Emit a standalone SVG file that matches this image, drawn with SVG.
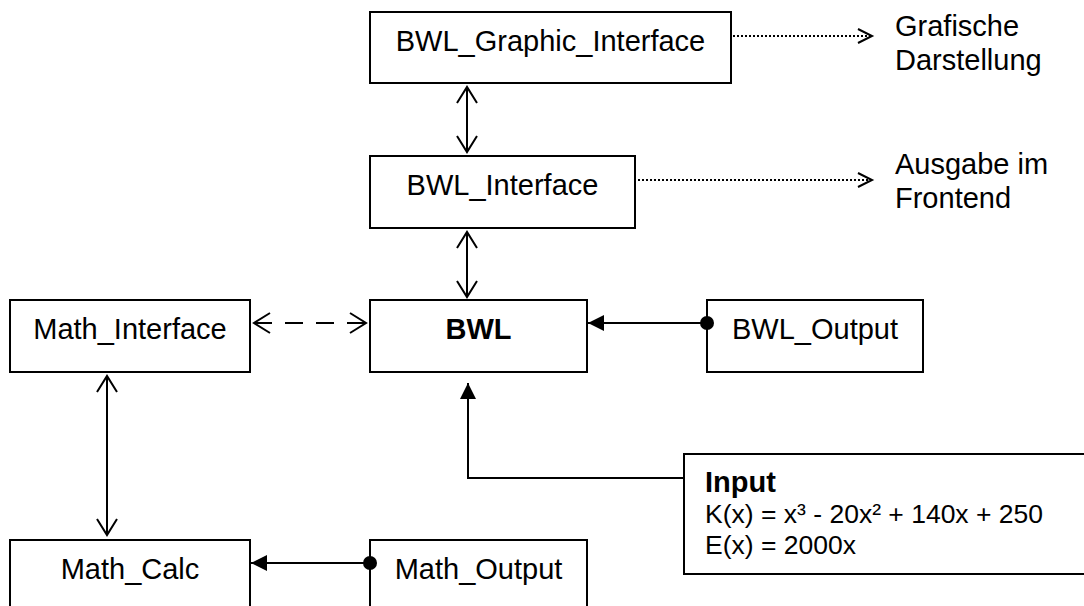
<svg xmlns="http://www.w3.org/2000/svg" width="1084" height="606" viewBox="0 0 1084 606">
<style>
.box{fill:#fff;stroke:#000;stroke-width:2}
.lbl{font-family:"Liberation Sans",Arial,sans-serif;font-size:29px;fill:#000;text-anchor:middle}
.note{font-family:"Liberation Sans",Arial,sans-serif;font-size:29px;fill:#000}
.small{font-size:26.5px}
.ln{fill:none;stroke:#000;stroke-width:2}
.dotted{stroke-dasharray:2 2}
.dashed{stroke-dasharray:18 13}
</style>
<defs>
<marker id="open" viewBox="-20 -12 24 24" markerWidth="24" markerHeight="24" refX="0" refY="0" orient="auto-start-reverse" markerUnits="userSpaceOnUse">
<path d="M-16,-10 L0,0 L-16,10" fill="none" stroke="#000" stroke-width="2"/>
</marker>
<marker id="openS" viewBox="-20 -12 24 24" markerWidth="24" markerHeight="24" refX="0" refY="0" orient="auto-start-reverse" markerUnits="userSpaceOnUse">
<path d="M-14,-7 L0,0 L-14,7" fill="none" stroke="#000" stroke-width="2"/>
</marker>
<marker id="tri" viewBox="-20 -12 24 24" markerWidth="24" markerHeight="24" refX="0" refY="0" orient="auto" markerUnits="userSpaceOnUse">
<path d="M-16,-8 L0,0 L-16,8 Z" fill="#000" stroke="none"/>
</marker>
<marker id="dot" viewBox="-10 -10 20 20" markerWidth="20" markerHeight="20" refX="0" refY="0" markerUnits="userSpaceOnUse">
<circle cx="0" cy="0" r="7" fill="#000"/>
</marker>
</defs>

<g id="node-bwl-graphic-interface">
<rect class="box" x="370" y="12" width="361" height="71"/>
<text class="lbl" x="550.5" y="51">BWL_Graphic_Interface</text>
</g>
<g id="node-bwl-interface">
<rect class="box" x="370" y="156" width="265" height="72"/>
<text class="lbl" x="502.5" y="194.5">BWL_Interface</text>
</g>
<g id="node-math-interface">
<rect class="box" x="10" y="300" width="240" height="72"/>
<text class="lbl" x="130" y="338.5">Math_Interface</text>
</g>
<g id="node-bwl">
<rect class="box" x="370" y="300" width="217" height="72"/>
<text class="lbl" x="478.5" y="338.5" font-weight="bold">BWL</text>
</g>
<g id="node-bwl-output">
<rect class="box" x="707" y="300" width="216" height="72"/>
<text class="lbl" x="815" y="338.5">BWL_Output</text>
</g>
<g id="node-math-calc">
<rect class="box" x="10" y="540" width="240" height="72"/>
<text class="lbl" x="130" y="578.5">Math_Calc</text>
</g>
<g id="node-math-output">
<rect class="box" x="370" y="540" width="217" height="72"/>
<text class="lbl" x="478.5" y="578.5">Math_Output</text>
</g>
<g id="node-input">
<rect class="box" x="684" y="454" width="410" height="120"/>
<text class="note" x="705" y="492" font-weight="bold">Input</text>
<text class="note small" x="705" y="523">K(x) = x³ - 20x² + 140x + 250</text>
<text class="note small" x="705" y="554">E(x) = 2000x</text>
</g>
<g id="label-grafische">
<text class="note" x="895" y="36">Grafische</text>
<text class="note" x="895" y="70">Darstellung</text>
</g>
<g id="label-ausgabe">
<text class="note" x="895" y="174">Ausgabe im</text>
<text class="note" x="895" y="208">Frontend</text>
</g>

<g id="connectors">
<line class="ln" x1="467" y1="87" x2="467" y2="152" marker-start="url(#open)" marker-end="url(#open)"/>
<line class="ln" x1="467" y1="232" x2="467" y2="297" marker-start="url(#open)" marker-end="url(#open)"/>
<line class="ln dashed" x1="254" y1="323" x2="366" y2="323" marker-start="url(#open)" marker-end="url(#open)"/>
<line class="ln" x1="107" y1="376" x2="107" y2="535" marker-start="url(#open)" marker-end="url(#open)"/>
<line class="ln" x1="707" y1="323" x2="588" y2="323" marker-start="url(#dot)" marker-end="url(#tri)"/>
<line class="ln" x1="370" y1="563" x2="251" y2="563" marker-start="url(#dot)" marker-end="url(#tri)"/>
<polyline class="ln" points="684,478 468,478 468,383" marker-end="url(#tri)"/>
<line class="ln dotted" x1="733" y1="36" x2="872" y2="36" marker-end="url(#openS)"/>
<line class="ln dotted" x1="638" y1="180" x2="872" y2="180" marker-end="url(#openS)"/>
</g>
</svg>
